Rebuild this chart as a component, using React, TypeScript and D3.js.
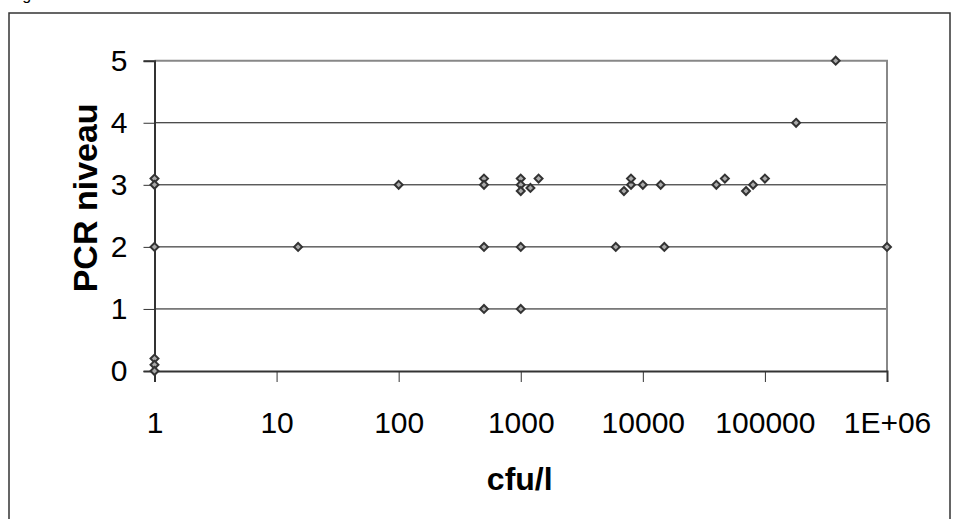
import React, { useRef, useEffect } from 'react';
import * as d3 from 'd3';

// cfu/l values and PCR level
const cfu = [1, 1, 1, 1, 1, 1, 15, 100, 500, 500, 500, 500, 1000, 1000, 1000, 1000, 1000, 1200, 1400, 6000, 7000, 8000, 8000, 10000, 14000, 15000, 40000, 47000, 70000, 80000, 100000, 180000, 380000, 1000000];
const pcr = [3.1, 3, 2, 0.2, 0.1, 0, 2, 3, 3.1, 3, 2, 1, 3.1, 3, 2.9, 2, 1, 2.95, 3.1, 2, 2.9, 3, 3.1, 3, 3, 2, 3, 3.1, 2.9, 3, 3.1, 4, 5, 2];
const xTicks = [1, 10, 100, 1000, 10000, 100000, 1000000];
const xTickLabels = ['1', '10', '100', '1000', '10000', '100000', '1E+06'];
const yTicks = [0, 1, 2, 3, 4, 5];

const App = () => {
  const svgRef = useRef(null);

  useEffect(() => {
    document.body.style.margin = '0';
    const svg = d3.select(svgRef.current);
    svg.selectAll('*').remove();

    const left = 154.5, right = 887, top = 60.7, bottom = 371;
    const x = d3.scaleLog().domain([1, 1e6]).range([left, right]);
    const y = d3.scaleLinear().domain([0, 5]).range([bottom, top]);
    const font = 'Liberation Sans, Arial, sans-serif';

    // outer frame
    svg.append('rect')
      .attr('x', 9).attr('y', 13).attr('width', 941).attr('height', 530)
      .attr('fill', 'none').attr('stroke', '#333').attr('stroke-width', 1.5);

    svg.append('text')
      .attr('x', 9).attr('y', 0)
      .style('font-family', font).style('font-size', '16px')
      .text('Figure');

    // gridlines
    svg.append('g').selectAll('line')
      .data([1, 2, 3, 4])
      .enter().append('line')
      .attr('x1', left).attr('x2', right)
      .attr('y1', d => y(d)).attr('y2', d => y(d))
      .attr('stroke', '#111').attr('stroke-width', 1);

    // top and right border
    svg.append('path')
      .attr('d', `M${left},${top}H${right}V${bottom}`)
      .attr('fill', 'none').attr('stroke', '#888').attr('stroke-width', 2);

    // y axis
    const yAxis = d3.axisLeft(y).tickValues(yTicks).tickSize(11).tickPadding(16).tickFormat(d3.format('d'));
    const gy = svg.append('g').attr('transform', `translate(${left},0)`).call(yAxis);
    gy.select('.domain').attr('stroke', '#333').attr('stroke-width', 2);
    gy.selectAll('.tick line').attr('stroke', '#333');
    gy.selectAll('text').style('font-family', font).style('font-size', '30px').attr('fill', '#000');

    // x axis
    const xAxis = d3.axisBottom(x).tickValues(xTicks).tickSize(11).tickPadding(30)
      .tickFormat((d, i) => xTickLabels[i]);
    const gx = svg.append('g').attr('transform', `translate(0,${bottom})`).call(xAxis);
    gx.select('.domain').attr('stroke', '#333').attr('stroke-width', 2);
    gx.selectAll('.tick line').attr('stroke', '#333');
    gx.selectAll('text').style('font-family', font).style('font-size', '30px').attr('fill', '#000');

    // titles
    svg.append('text')
      .attr('transform', `translate(97,${(top + bottom) / 2 - 18}) rotate(-90)`)
      .attr('text-anchor', 'middle')
      .style('font-family', font).style('font-size', '34px').style('font-weight', 'bold')
      .text('PCR niveau');

    svg.append('text')
      .attr('x', (left + right) / 2 - 1).attr('y', 490)
      .attr('text-anchor', 'middle')
      .style('font-family', font).style('font-size', '32px').style('font-weight', 'bold')
      .text('cfu/l');

    // points
    const diamond = d3.symbol().type(d3.symbolDiamond2).size(40);
    svg.append('g').selectAll('path')
      .data(cfu.map((c, i) => ({ c, p: pcr[i] })))
      .enter().append('path')
      .attr('d', diamond)
      .attr('transform', d => `translate(${x(d.c)},${y(d.p)})`)
      .attr('fill', '#aaa').attr('stroke', '#333').attr('stroke-width', 2);
  }, []);

  return <svg ref={svgRef} width={960} height={519} style={{ display: 'block' }}></svg>;
};

export default App;
